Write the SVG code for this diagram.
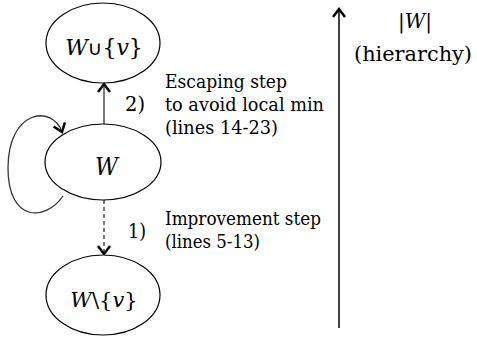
<svg xmlns="http://www.w3.org/2000/svg" width="477" height="338" viewBox="0 0 477 338">
<style>
.node{fill:#fff;stroke:#000;stroke-width:1.2}
.edge{fill:none;stroke:#333;stroke-width:1.3}
text{font-family:'DejaVu Serif','Liberation Serif','Times New Roman',serif;fill:#000}
.i{font-style:italic}
.s{font-family:'DejaVu Sans','Liberation Sans',sans-serif;font-style:normal}
</style>
<defs>
<marker id="ah" markerUnits="userSpaceOnUse" markerWidth="16" markerHeight="16" refX="9" refY="7" orient="auto">
<path d="M1,1 L9,7 L1,13" fill="none" stroke="#000" stroke-width="2.5"/>
</marker>
</defs>
<g id="edges">
<line class="edge" x1="104" y1="124" x2="104" y2="84" marker-end="url(#ah)"/>
<line class="edge" x1="104" y1="200" x2="104" y2="254" stroke-dasharray="4,3" marker-end="url(#ah)"/>
<path class="edge" d="M63,196 C45,222 8,222 8,168 C8,110 52,104 62,132" marker-end="url(#ah)"/>
<line class="edge" x1="339" y1="328" x2="339" y2="9" style="stroke:#000;stroke-width:1.5" marker-end="url(#ah)"/>
</g>
<g id="n_top">
<ellipse class="node" cx="103" cy="43" rx="57" ry="40"/>
<text x="104" y="55" font-size="22" text-anchor="middle"><tspan class="i">W</tspan><tspan class="s" font-size="20">∪</tspan>{<tspan class="i">v</tspan>}</text>
</g>
<g id="n_mid">
<ellipse class="node" cx="103" cy="162" rx="58" ry="38"/>
<text class="i" x="95" y="175" font-size="24" textLength="23" lengthAdjust="spacingAndGlyphs">W</text>
</g>
<g id="n_bot">
<ellipse class="node" cx="103" cy="295" rx="57" ry="40"/>
<text x="104" y="307" font-size="21" text-anchor="middle"><tspan class="i">W</tspan>\{<tspan class="i">v</tspan>}</text>
</g>
<g id="labels">
<text x="125" y="111" font-size="21" textLength="20" lengthAdjust="spacingAndGlyphs">2)</text>
<text x="128" y="238" font-size="21" textLength="18" lengthAdjust="spacingAndGlyphs">1)</text>
<text x="165" y="88" font-size="19" textLength="122" lengthAdjust="spacingAndGlyphs">Escaping step</text>
<text x="165" y="111" font-size="19" textLength="159" lengthAdjust="spacingAndGlyphs">to avoid local min</text>
<text x="165" y="134" font-size="19" textLength="113" lengthAdjust="spacingAndGlyphs">(lines 14-23)</text>
<text x="165" y="225" font-size="19" textLength="156" lengthAdjust="spacingAndGlyphs">Improvement step</text>
<text x="165" y="248" font-size="19" textLength="95" lengthAdjust="spacingAndGlyphs">(lines 5-13)</text>
<text x="415" y="28" font-size="20" text-anchor="middle">|<tspan class="i">W</tspan>|</text>
<text x="354" y="61" font-size="21" textLength="118" lengthAdjust="spacingAndGlyphs">(hierarchy)</text>
</g>
</svg>
